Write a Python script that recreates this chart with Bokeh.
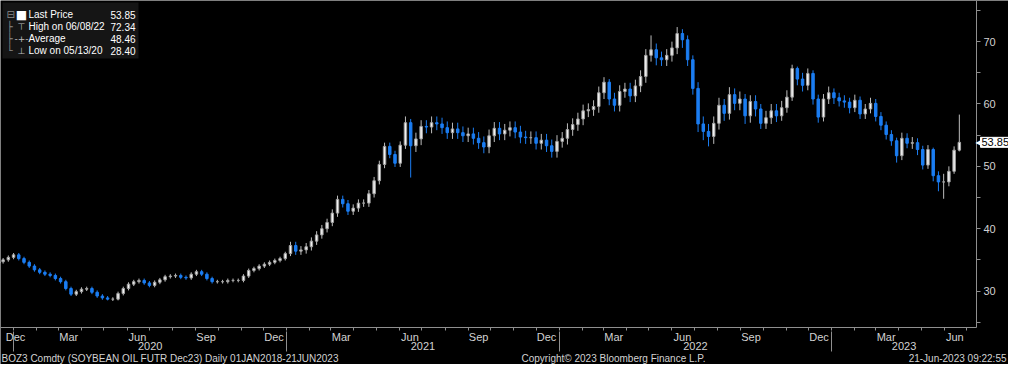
import numpy as np
import pandas as pd
from bokeh.plotting import figure
from bokeh.models import (Range1d, LinearAxis, FixedTicker, Label, BoxAnnotation,
                          ColumnDataSource)
from bokeh.embed import file_html
from bokeh.resources import INLINE

# ---------------- data (weekly bars) ----------------
week_end = pd.date_range("2019-12-11", "2023-06-21", freq="7D")  # 185 weeks

closes = [34.7, 35.0, 35.4, 35.8, 35.2, 34.6, 34.0, 33.4, 33.0, 32.7,
          32.5, 32.0, 31.5, 30.4, 29.5, 29.9, 30.3, 30.4, 29.8, 29.2,
          28.9, 28.7, 28.7, 29.6, 30.4, 31.1, 31.5, 31.7, 31.3, 30.9,
          31.4, 31.8, 32.3, 32.4, 32.5, 32.2, 32.1, 32.7, 33.1, 32.7,
          32.0, 31.5, 31.5, 31.5, 31.7, 31.7, 31.7, 32.4, 33.3, 33.6,
          34.0, 34.3, 34.6, 34.9, 35.2, 36.0, 37.3, 36.4, 36.6, 37.1,
          38.0, 39.0, 40.0, 41.0, 42.5, 44.7, 44.0, 42.8, 43.3, 44.1,
          44.1, 45.6, 47.7, 50.3, 53.2, 51.9, 50.5, 53.4, 57.0, 53.3,
          54.4, 56.4, 56.3, 57.0, 56.8, 56.2, 55.4, 56.0, 55.4, 54.9,
          55.2, 54.5, 53.8, 53.1, 54.9, 56.1, 55.2, 55.8, 56.2, 55.5,
          54.7, 54.6, 54.6, 53.7, 54.2, 53.3, 52.4, 54.0, 54.5, 55.9,
          56.7, 57.6, 58.9, 59.1, 59.6, 61.8, 63.5, 60.8, 59.8, 62.0,
          62.4, 61.3, 62.9, 64.4, 67.8, 68.7, 67.4, 67.1, 67.8, 69.0,
          71.3, 70.3, 67.1, 62.5, 56.8, 55.6, 54.8, 56.9, 59.8, 58.5,
          61.5, 60.1, 60.8, 58.1, 60.4, 59.2, 56.9, 57.8, 58.9, 58.1,
          59.4, 61.1, 65.7, 64.0, 63.0, 64.9, 60.8, 57.9, 60.8, 61.8,
          61.0, 60.5, 60.3, 59.4, 60.6, 58.4, 59.2, 60.1, 58.0, 56.6,
          55.1, 54.1, 51.7, 54.5, 53.7, 53.8, 52.7, 50.2, 52.7, 48.5,
          47.5, 47.5, 49.2, 52.6, 53.85]

highs = [35.0, 35.3, 35.7, 36.1, 36.1, 35.5, 34.9, 34.3, 33.7, 33.3,
         33.0, 32.8, 32.3, 31.8, 30.7, 30.2, 30.6, 30.7, 30.7, 30.1,
         29.5, 29.2, 29.0, 29.9, 30.7, 31.4, 31.8, 32.0, 32.0, 31.6,
         31.7, 32.1, 32.6, 32.7, 32.8, 32.8, 32.5, 33.0, 33.4, 33.4,
         33.0, 32.3, 31.8, 31.8, 32.0, 32.0, 32.0, 32.7, 33.6, 33.9,
         34.3, 34.6, 34.9, 35.2, 35.5, 36.3, 37.9, 37.9, 37.2, 37.7,
         38.6, 39.6, 40.6, 41.6, 43.1, 45.3, 45.3, 44.6, 43.9, 44.7,
         44.7, 46.2, 48.3, 50.9, 53.8, 53.8, 52.5, 54.0, 58.0, 57.6,
         55.4, 57.4, 57.4, 58.0, 58.0, 57.8, 57.2, 57.0, 57.0, 56.4,
         56.2, 56.2, 55.5, 54.8, 55.9, 57.1, 57.1, 56.8, 57.2, 57.2,
         56.5, 55.7, 55.6, 55.6, 55.2, 55.2, 54.3, 55.0, 55.5, 56.9,
         57.7, 58.6, 59.9, 60.1, 60.6, 62.8, 64.3, 64.0, 61.8, 63.0,
         63.4, 63.4, 63.9, 65.4, 68.8, 71.0, 69.7, 68.4, 68.8, 70.0,
         72.34, 72.0, 71.0, 67.8, 63.5, 58.0, 56.8, 58.0, 61.0, 60.8,
         62.7, 62.5, 62.0, 61.6, 61.4, 61.4, 60.0, 58.9, 60.0, 60.0,
         60.5, 62.2, 66.3, 66.0, 65.0, 65.7, 65.4, 61.5, 61.6, 62.8,
         62.5, 61.8, 61.4, 61.0, 61.5, 61.2, 60.0, 61.0, 60.8, 58.7,
         57.2, 55.8, 54.6, 55.4, 55.3, 54.7, 54.5, 53.3, 53.4, 53.0,
         49.2, 48.8, 50.0, 53.2, 58.3]

lows = [34.2, 34.4, 34.7, 35.1, 34.9, 34.3, 33.7, 33.1, 32.7, 32.4,
        32.2, 31.7, 31.2, 30.1, 29.2, 29.2, 29.6, 30.0, 29.5, 28.9,
        28.6, 28.5, 28.4, 28.5, 29.3, 30.1, 30.8, 31.2, 31.0, 30.6,
        30.6, 31.1, 31.5, 32.0, 32.1, 31.9, 31.8, 31.8, 32.4, 32.4,
        31.7, 31.2, 31.2, 31.2, 31.2, 31.4, 31.4, 31.4, 32.1, 33.0,
        33.3, 33.7, 34.0, 34.3, 34.6, 34.9, 35.6, 35.8, 35.8, 36.0,
        36.5, 37.4, 38.4, 39.4, 40.4, 41.9, 43.4, 42.2, 42.2, 42.7,
        43.5, 43.5, 45.0, 47.1, 49.7, 51.3, 49.9, 49.9, 52.8, 48.2,
        52.3, 53.4, 55.3, 55.3, 55.8, 55.2, 54.4, 54.4, 54.4, 53.9,
        53.9, 53.5, 52.8, 52.1, 52.1, 53.9, 54.2, 54.2, 54.8, 54.5,
        53.7, 53.6, 53.6, 52.7, 52.7, 52.3, 51.4, 51.4, 53.0, 53.5,
        54.9, 55.7, 56.6, 57.9, 58.1, 58.6, 60.8, 59.8, 58.8, 58.8,
        61.0, 60.3, 60.3, 61.9, 63.4, 66.8, 66.2, 66.1, 66.1, 66.8,
        68.0, 69.0, 66.1, 61.5, 55.5, 54.2, 53.2, 53.6, 55.9, 57.3,
        57.5, 59.0, 59.0, 56.8, 57.0, 58.0, 56.0, 56.0, 56.8, 57.1,
        57.3, 58.6, 60.5, 63.0, 62.0, 62.2, 59.9, 57.0, 57.2, 60.0,
        60.0, 59.6, 59.4, 58.5, 58.7, 57.6, 57.6, 58.5, 57.2, 55.8,
        54.3, 53.3, 50.6, 51.0, 52.9, 52.8, 51.8, 49.5, 49.6, 47.6,
        46.0, 44.8, 46.8, 48.8, 52.4]

first_open = 34.5
opens = [first_open] + closes[:-1]

avg_price = 48.46
high_date = "06/08/22"
low_date = "05/13/20"
footer_left = "BOZ3 Comdty (SOYBEAN OIL FUTR  Dec23)  Daily 01JAN2018-21JUN2023"
footer_mid = "Copyright\u00a9 2023 Bloomberg Finance L.P."
footer_right = "21-Jun-2023 09:22:55"

# ---------------- layout helpers ----------------
def ms(ts):
    return pd.Timestamp(ts).value / 1e6

DAY = 86400000.0
W, H = 1008, 364
AX_X = 976          # pixel column of the price axis
AX_Y = 327          # pixel row of the time axis
Y_TOP, Y_AX = 76.6, 24.15

x_start = ms("2019-12-14 12:00")
x_axis_end = ms("2023-07-14")
x_per_px = (x_axis_end - x_start) / AX_X
y_per_px = (Y_TOP - Y_AX) / AX_Y

def xdat(px):
    return x_start + px * x_per_px

def ydat(py):
    return Y_TOP - py * y_per_px

FONT = "Liberation Sans"
UP_FILL, UP_LINE = "#f2f2f2", "#a0a0a0"
DOWN = "#1b7df2"
AXIS_C = "#8f8f8f"
TXT_C = "#d2d2d2"

xs = [ms(d) for d in week_end]
up = [c >= o for o, c in zip(opens, closes)]
src = ColumnDataSource(dict(
    x=xs, open=opens, close=closes, high=highs, low=lows,
    top=[max(o, c) for o, c in zip(opens, closes)],
    bottom=[min(o, c) for o, c in zip(opens, closes)],
    fill=[UP_FILL if u else DOWN for u in up],
    line=[UP_LINE if u else DOWN for u in up],
    wick=["#bcbcbc" if u else DOWN for u in up],
))

p = figure(width=W, height=H, x_axis_location=None, y_axis_location=None,
           x_range=Range1d(x_start, xdat(W)), y_range=Range1d(ydat(H), Y_TOP),
           toolbar_location=None, output_backend="svg",
           background_fill_color="black", border_fill_color="black",
           min_border=0)
p.outline_line_color = None
p.grid.visible = False

p.segment(x0="x", y0="low", x1="x", y1="high", source=src, line_color="wick",
          line_width=1)
p.vbar(x="x", width=3.3 * DAY, top="top", bottom="bottom", source=src,
       fill_color="fill", line_color="line", line_width=1)

# ---------------- price axis (right) ----------------
yt = list(range(25, 80, 5))
ya = LinearAxis(ticker=FixedTicker(ticks=yt),
                major_label_overrides={t: ("" if t % 10 else str(t)) for t in yt},
                fixed_location=x_axis_end, bounds=(Y_AX, Y_TOP))
ya.axis_line_color = AXIS_C
ya.major_tick_line_color = AXIS_C
ya.major_tick_out = 4
ya.major_tick_in = 0
ya.minor_tick_line_color = None
ya.major_label_text_color = TXT_C
ya.major_label_text_font = FONT
ya.major_label_text_font_size = "11px"
ya.major_label_standoff = 3
p.add_layout(ya, "right")

# ---------------- time axes (months / years / separators) ----------------
month_starts = pd.date_range("2020-01-01", "2023-07-01", freq="MS")
m_ticks, m_over = [], {}
for d in pd.date_range("2019-12-01", "2023-06-01", freq="MS"):
    if d.month in (3, 6, 9, 12):
        t = max(ms(d) + 14 * DAY, xdat(15))
        m_ticks.append(t)
        m_over[t] = d.strftime("%b")
ax_m = LinearAxis(ticker=FixedTicker(ticks=m_ticks,
                                     minor_ticks=[ms(d) for d in month_starts]),
                  major_label_overrides=m_over, fixed_location=Y_AX,
                  bounds=(x_start, x_axis_end))
ax_m.axis_line_color = AXIS_C
ax_m.major_tick_line_color = None
ax_m.major_tick_out = 0
ax_m.major_tick_in = 0
ax_m.minor_tick_line_color = AXIS_C
ax_m.minor_tick_out = 3
ax_m.minor_tick_in = 0
ax_m.major_label_standoff = 0
ax_m.major_label_text_color = TXT_C
ax_m.major_label_text_font = FONT
ax_m.major_label_text_font_size = "11px"
p.add_layout(ax_m, "below")

years = [2020, 2021, 2022, 2023]
year_starts = [ms(f"{yv}-01-01") for yv in years]

# year separators
ax_s = LinearAxis(ticker=FixedTicker(ticks=year_starts, minor_ticks=[]),
                  major_label_overrides={t: "" for t in year_starts},
                  fixed_location=ydat(331), bounds=(x_start, x_axis_end))
ax_s.axis_line_color = None
ax_s.major_tick_line_color = AXIS_C
ax_s.major_tick_out = 20
ax_s.major_tick_in = 0
ax_s.minor_tick_line_color = None
ax_s.major_label_text_font_size = "1px"
p.add_layout(ax_s, "below")

y_ticks, y_over = [], {}
for yv, a in zip(years, year_starts):
    b = min(ms(f"{yv + 1}-01-01"), x_axis_end)
    t = (a + b) / 2
    y_ticks.append(t)
    y_over[t] = str(yv)
ax_y = LinearAxis(ticker=FixedTicker(ticks=y_ticks, minor_ticks=[]),
                  major_label_overrides=y_over, fixed_location=ydat(341),
                  bounds=(x_start, x_axis_end))
ax_y.axis_line_color = None
ax_y.major_tick_line_color = None
ax_y.major_tick_out = 0
ax_y.major_tick_in = 0
ax_y.minor_tick_line_color = None
ax_y.major_label_standoff = 0
ax_y.major_label_text_color = TXT_C
ax_y.major_label_text_font = FONT
ax_y.major_label_text_font_size = "11px"
p.add_layout(ax_y, "below")

# ---------------- last price tag ----------------
tag_kw = dict(x=AX_X + 4, y=closes[-1], x_units="screen", y_units="data",
              text=f"{closes[-1]:.2f}", text_color="black",
              text_font=FONT, text_font_size="11px", text_baseline="middle",
              background_fill_color="white", border_line_color="white")
if "padding" in Label.properties():
    tag_kw["padding"] = 1
p.add_layout(Label(**tag_kw))
p.add_layout(Label(x=AX_X - 1, y=closes[-1], x_units="screen", y_units="data",
                   text="\u25c0", text_color="white", text_font="DejaVu Sans",
                   text_font_size="8px", text_baseline="middle"))

# ---------------- legend box ----------------
p.add_layout(BoxAnnotation(left=2, right=138, top=H - 2, bottom=H - 58,
                           left_units="screen", right_units="screen",
                           top_units="screen", bottom_units="screen",
                           fill_color="#151515", fill_alpha=1.0, line_color=None))
rows = [("Last Price", f"{closes[-1]:.2f}", "\u25a0", "\u229f"),
        (f"High on {high_date}", f"{max(highs):.2f}", "\u22a4", "\u251c"),
        ("Average", f"{avg_price:.2f}", "-+-", "\u251c"),
        (f"Low on {low_date}", f"{min(lows):.2f}", "\u22a5", "\u2514")]
row_y = [14, 26, 38, 50]
for (name, val, icon, tree), ry in zip(rows, row_y):
    yy = H - ry
    p.add_layout(Label(x=6, y=yy, x_units="screen", y_units="screen", text=tree,
                       text_color="#8a8a8a", text_font="DejaVu Sans",
                       text_font_size="10px", text_baseline="middle"))
    p.add_layout(Label(x=21, y=yy, x_units="screen", y_units="screen", text=icon,
                       text_color="white" if icon == "\u25a0" else "#bdbdbd",
                       text_font="DejaVu Sans",
                       text_font_size="12px" if icon == "\u25a0" else "9px",
                       text_baseline="middle", text_align="center"))
    p.add_layout(Label(x=28, y=yy, x_units="screen", y_units="screen", text=name,
                       text_color="white", text_font=FONT,
                       text_font_size="10px", text_baseline="middle"))
    p.add_layout(Label(x=135, y=yy, x_units="screen", y_units="screen", text=val,
                       text_color="white", text_font=FONT,
                       text_font_size="10px", text_baseline="middle",
                       text_align="right"))

# ---------------- footer ----------------
for txt, xx, al in [(footer_left, 1, "left"), (footer_mid, 613, "center"),
                    (footer_right, W - 2, "right")]:
    p.add_layout(Label(x=xx, y=1, x_units="screen", y_units="screen",
                       text=txt, text_color=TXT_C, text_font=FONT,
                       text_font_size="10px", text_baseline="bottom",
                       text_align=al))

open("out.html", "w").write(file_html(p, INLINE))
